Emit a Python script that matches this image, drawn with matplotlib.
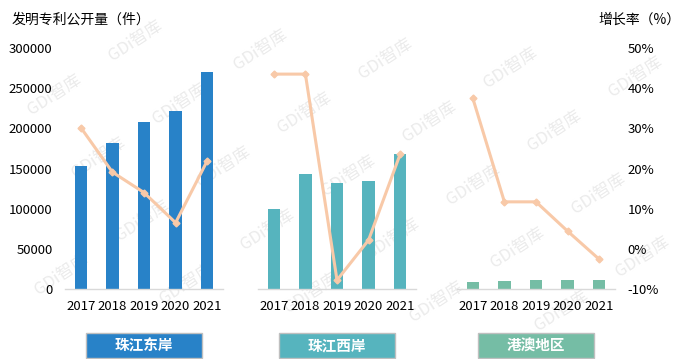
import numpy as np
import matplotlib
matplotlib.use('Agg')
import matplotlib.pyplot as plt
from matplotlib.patches import Rectangle
from matplotlib.ticker import FuncFormatter

plt.rcParams['font.family'] = ['Noto Sans CJK SC', 'DejaVu Sans']

# datos
years = ['2017', '2018', '2019', '2020', '2021']
regions = ['珠江东岸', '珠江西岸', '港澳地区']
east_patents = [153500, 182000, 208000, 222000, 270500]
west_patents = [100000, 143500, 132500, 135000, 167500]
hkmo_patents = [8800, 10000, 11200, 11200, 11200]
east_growth = [30.2, 19.1, 14.0, 6.5, 21.9]
west_growth = [43.5, 43.5, -7.8, 2.2, 23.6]
hkmo_growth = [37.5, 11.7, 11.7, 4.4, -2.6]

patents = [east_patents, west_patents, hkmo_patents]
growth = [east_growth, west_growth, hkmo_growth]
bar_colors = ['#2882C8', '#56B4BE', '#75BDA5']
line_color = '#F8C9A8'

W, H = 693, 359
fig = plt.figure(figsize=(W / 100, H / 100), dpi=100, facecolor='white')

# marca de agua (solo las que caben enteras)
wm_x0, wm_y0 = 260, 50
for i in range(-4, 6):
    for j in range(-3, 7):
        px = wm_x0 + i * 125 + j * 44
        py = wm_y0 + i * 9 + j * 63
        if 45 < px < W - 45 and 28 < py < H - 28:
            fig.text(px / W, 1 - py / H, 'GDi智库', rotation=33,
                     ha='center', va='center', fontsize=12,
                     color='#EBEBEB', zorder=-5)

panel_left = [65, 258, 457]
panel_w = 158
y_bot, y_top = 289, 48

for k in range(3):
    ax = fig.add_axes([panel_left[k] / W, (H - y_bot) / H,
                       panel_w / W, (y_bot - y_top) / H])
    ax.set_facecolor('none')
    x = np.arange(len(years))
    ax.bar(x, patents[k], width=0.39, color=bar_colors[k], zorder=2)
    ax.set_xlim(-0.5, 4.5)
    ax.set_ylim(0, 300000)
    ax.set_yticks(np.arange(0, 300001, 50000))
    for s in ['top', 'right', 'left']:
        ax.spines[s].set_visible(False)
    ax.spines['bottom'].set_color('#D9D9D9')
    ax.spines['bottom'].set_linewidth(1.0)
    ax.set_xticks(x)
    ax.set_xticklabels(years, fontsize=9.5)
    ax.tick_params(axis='x', length=0, pad=8)
    ax.tick_params(axis='y', length=0, pad=9, labelsize=9.5)
    if k != 0:
        ax.set_yticklabels([])

    ax2 = ax.twinx()
    ax2.plot(x, growth[k], color=line_color, linewidth=2.2,
             marker='D', markersize=3.5, zorder=3)
    ax2.set_ylim(-10, 50)
    ax2.set_yticks(np.arange(-10, 51, 10))
    ax2.yaxis.set_major_formatter(FuncFormatter(lambda v, p: f'{v:.0f}%'))
    for s in ['top', 'right', 'left', 'bottom']:
        ax2.spines[s].set_visible(False)
    ax2.tick_params(axis='y', length=0, pad=9, labelsize=9.5)
    if k != 2:
        ax2.set_yticklabels([])

    # caja con el nombre de la region
    cx = panel_left[k] + panel_w / 2
    bw, bh = 116, 25
    fig.patches.append(Rectangle(((cx - bw / 2) / W, (H - 358) / H), bw / W, bh / H,
                                 transform=fig.transFigure, facecolor=bar_colors[k],
                                 edgecolor='#BFBFBF', linewidth=1.0, zorder=2))
    fig.text(cx / W, (H - 345.5) / H, regions[k], ha='center', va='center',
             fontsize=10.5, fontweight='bold', color='white', zorder=3)

fig.text(12 / W, 1 - 20 / H, '发明专利公开量（件）', ha='left', va='center', fontsize=10)
fig.text(598 / W, 1 - 20 / H, '增长率（%）', ha='left', va='center', fontsize=10)

fig.savefig('out.png', dpi=100, facecolor='white')
